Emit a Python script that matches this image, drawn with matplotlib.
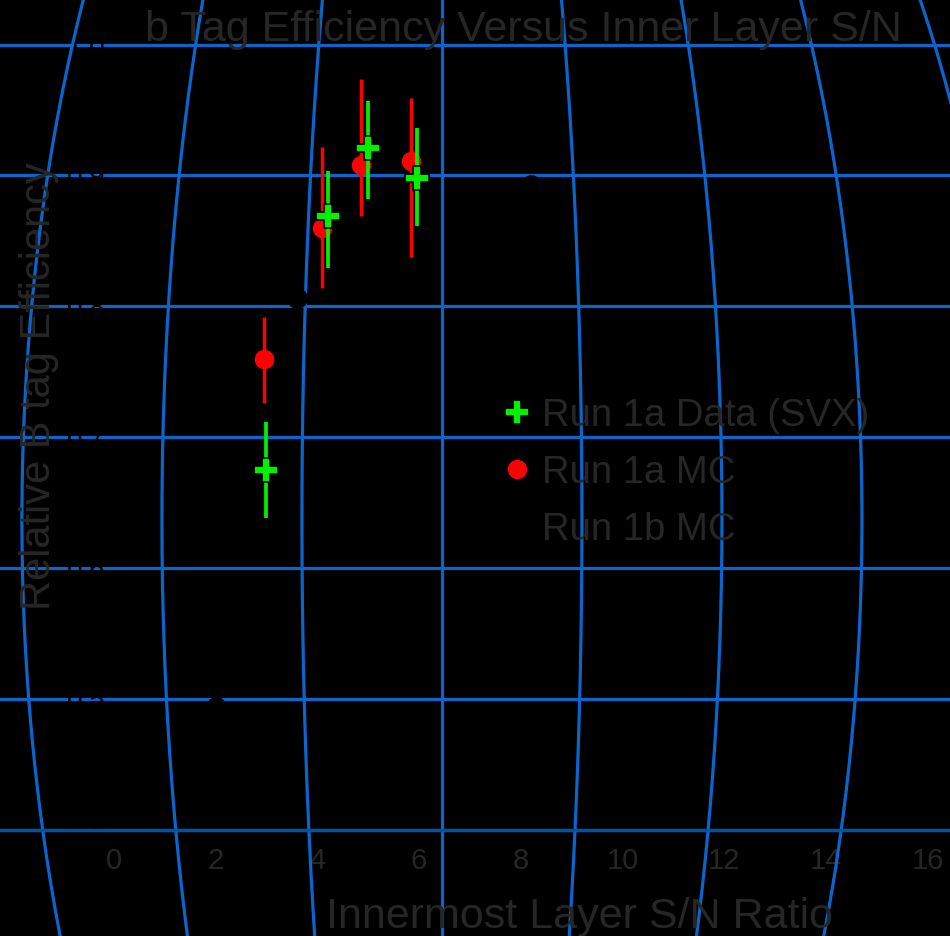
import numpy as np
import matplotlib
matplotlib.use("Agg")
import matplotlib.pyplot as plt
from matplotlib.lines import Line2D
from matplotlib.ticker import MultipleLocator

plt.rcParams['font.family'] = ['Liberation Sans', 'DejaVu Sans']

# Run 1a data (SVX)
data_sn = [3.0, 4.2, 5.0, 5.95]
data_eff = [0.675, 0.869, 0.921, 0.898]
data_err_lo = [0.037, 0.040, 0.039, 0.037]
data_err_hi = [0.037, 0.034, 0.036, 0.038]

# Run 1a MC
mc1a_sn = [2.95, 4.1, 4.85, 5.85]
mc1a_eff = [0.760, 0.860, 0.908, 0.911]
mc1a_err_lo = [0.034, 0.046, 0.039, 0.073]
mc1a_err_hi = [0.032, 0.062, 0.066, 0.048]

# Run 1b MC
mc1b_sn = [2.0, 3.6, 8.2]
mc1b_eff = [0.494, 0.806, 0.893]

x_ticks = [0, 2, 4, 6, 8, 10, 12, 14, 16]
y_ticks = [0.4, 0.5, 0.6, 0.7, 0.8, 0.9, 1.0]
legend_labels = ['Run 1a Data (SVX)', 'Run 1a MC', 'Run 1b MC']

bg = 'black'
grid_blue = '#0A66CC'
axis_blue = '#0052A3'
txt = '#262626'
green = '#00F000'
red = '#FF0000'

fig = plt.figure(figsize=(9.5, 9.36), dpi=100, facecolor=bg)
ax = fig.add_axes([0, 0, 1, 1], facecolor=bg)
ax.set_xlim(-2.24, 16.44)
ax.set_ylim(0.319, 1.034)

# bulging meridians of the background grid
ymesh = np.linspace(0.319, 1.034, 200)
bulge = np.sqrt(1 - ((ymesh - 0.637) / 0.763) ** 2)
for k in range(-3, 5):
    ax.plot(6.45 + k * 2.753 * bulge, ymesh, color=grid_blue, lw=2.3, zorder=1.6)

ax.set_xticks(x_ticks)
ax.xaxis.set_minor_locator(MultipleLocator(0.5))
ax.set_yticks(y_ticks)
ax.set_yticklabels([f'{v:.1f}' for v in y_ticks])
ax.yaxis.grid(True, color=grid_blue, lw=2.3)

for s in ['top', 'right']:
    ax.spines[s].set_visible(False)
ax.spines['bottom'].set_position(('data', 0.4))
ax.spines['bottom'].set_color(axis_blue)
ax.spines['bottom'].set_linewidth(2.4)
ax.spines['left'].set_position(('data', 0))
ax.spines['left'].set_visible(False)

ax.tick_params(axis='x', which='major', direction='inout', length=7, width=1.2,
               color='black', labelcolor=txt, labelsize=21, pad=9)
ax.tick_params(axis='x', which='minor', direction='inout', length=5, width=1.0,
               color='black')
ax.tick_params(axis='y', length=0, labelcolor='black', labelsize=20, pad=6)

ax.errorbar(mc1a_sn, mc1a_eff, yerr=[mc1a_err_lo, mc1a_err_hi], fmt='o',
            color=red, ms=13, elinewidth=2.5, capsize=0, zorder=3)
ax.errorbar(data_sn, data_eff, yerr=[data_err_lo, data_err_hi], fmt='P',
            color=green, ms=17, mec='black', mew=1.2, elinewidth=2.7,
            capsize=0, zorder=4)
ax.plot(mc1b_sn, mc1b_eff, 'o', color='black', ms=14, zorder=3)

handles = [
    Line2D([], [], ls='none', marker='P', ms=17, mfc=green, mec='black', mew=1.2),
    Line2D([], [], ls='none', marker='o', ms=13, color=red),
    Line2D([], [], ls='none', marker='o', ms=14, color='black'),
]
ax.legend(handles, legend_labels, loc='upper left', bbox_to_anchor=(0.5253, 0.575),
          frameon=False, fontsize=27.5, handlelength=0.95, handletextpad=0.17,
          labelspacing=0.55, borderpad=0, borderaxespad=0, labelcolor=txt)

ax.text(0.551, 0.956, 'b Tag Efficiency Versus Inner Layer S/N', transform=ax.transAxes,
        ha='center', va='baseline', fontsize=31, color=txt)
ax.text(0.6105, 0.0085, 'Innermost Layer S/N Ratio', transform=ax.transAxes,
        ha='center', va='baseline', fontsize=31, color=txt)
ax.text(0.0526, 0.5876, 'Relative B tag Efficiency', transform=ax.transAxes,
        rotation=90, rotation_mode='anchor', ha='center', va='baseline',
        fontsize=30, color=txt)

fig.savefig('out.png', dpi=100, facecolor=bg)
